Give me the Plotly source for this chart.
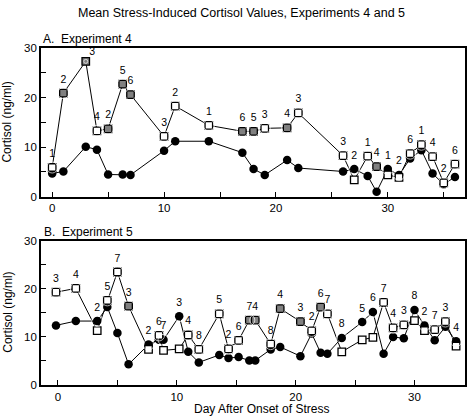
import plotly.graph_objects as go

# ---------------- data ----------------
title_text = "Mean Stress-Induced Cortisol Values, Experiments 4 and 5"

# Experiment 4
days4 = [0, 1, 3, 4, 5, 6.3, 7, 10, 11, 14, 17, 18, 19, 21, 22, 26, 27, 28.2, 29, 30, 31, 32, 33, 34, 35, 36]
indiv4 = [5.9, 20.9, 27.3, 13.3, 13.7, 22.7, 20.6, 12.2, 18.3, 14.4, 13.2, 13.2, 13.8, 13.9, 16.9,
          8.3, 3.4, 8.2, 6.1, 4.4, 3.9, 8.7, 10.5, 8.1, 2.8, 6.6]
mean4 = [4.7, 5.1, 10.1, 9.5, 4.5, 4.5, 4.4, 9.3, 11.2, 11.2, 8.9, 5.6, 4.4, 7.4, 5.8,
         5.1, 5.6, 4.2, 1.0, 5.6, 4.4, 7.7, 9.4, 4.7, 2.5, 4.0]
labels4 = ["1", "2", "3", "4", "2", "5", "6", "3", "2", "1", "6", "5", "3", "4", "3",
           "3", "2", "1", "4", "1", "2", "6", "1", "4", "2", "6"]
gray4 = [False, True, True, False, True, True, True, False, False, False, True, True, False, True, False,
         False, False, False, True, False, False, False, False, False, False, False]

# Experiment 5
days5 = [-0.17, 1.5, 3.3, 4.15, 5.0, 5.94, 7.62, 8.5, 8.88, 10.2, 10.96, 11.85, 13.57, 14.35, 15.2,
         16.1, 16.6, 17.9, 18.7, 20.4, 21.35, 22.1, 22.67, 23.88, 25.6, 26.5, 27.4, 28.2, 29.1,
         30.0, 30.84, 31.7, 32.6, 33.5]
indiv5 = [19.3, 20.1, 11.3, 17.6, 23.5, 16.4, 7.4, 10.3, 7.2, 7.5, 10.4, 7.4, 14.8, 7.5, 9.3,
          13.5, 13.5, 8.5, 15.9, 13.2, 11.25, 16.2, 14.8, 6.9, 9.4, 9.9, 17.2, 11.9, 12.5,
          13.4, 11.3, 11.5, 13.2, 8.1]
mean5 = [12.4, 13.3, 13.3, 16.2, 10.8, 4.3, 8.4, 9.4, 9.4, 14.3, 6.9, 4.7, 6.25, 5.6, 5.8,
         5.1, 5.1, 7.4, 7.9, 6.0, 10.7, 6.7, 6.5, 9.8, 13.1, 15.2, 6.5, 10.0, 9.7,
         15.6, 12.4, 9.3, 12.1, 9.1]
labels5 = ["3", "4", "2", "5", "7", "3", "2", "6", "7", "3", "4", "8", "5", "2", "6",
           "7", "4", "8", "4", "3", "2", "6", "7", "8", "5", "6", "7", "4", "3",
           "8", "2", "7", "3", "4"]
gray5 = [False, False, False, False, False, True, False, False, False, False, False, False, False, False, False,
         True, True, False, True, True, False, True, False, False, False, False, False, False, False,
         False, False, False, False, False]

ytick_vals = [0, 5, 10, 15, 20, 25, 30]
ytick_text = ["0", "", "10", "", "20", "", "30"]
xtick_vals = [0, 5, 10, 15, 20, 25, 30, 35]
xtick_text = ["0", "", "10", "", "20", "", "30", ""]

panel_titles = ["A.  Experiment 4", "B.  Experiment 5"]
y_title = "Cortisol (ng/ml)"
x_title = "Day After Onset of Stress"

# ---------------- figure ----------------
FONT = "Liberation Sans, Arial, Helvetica, sans-serif"
GRAY = "#808080"
fig = go.Figure()


def add_panel(days, indiv, mean, labels, gray, xa, ya, peak_right=None):
    fig.add_trace(go.Scatter(
        x=days, y=mean, mode="lines+markers", xaxis=xa, yaxis=ya,
        line=dict(color="black", width=1),
        marker=dict(symbol="circle", size=8.5, color="black"),
        showlegend=False, hoverinfo="skip"))
    fig.add_trace(go.Scatter(
        x=days, y=indiv, mode="lines+markers", xaxis=xa, yaxis=ya,
        line=dict(color="black", width=1),
        marker=dict(symbol="square", size=7.5,
                    color=[GRAY if g else "white" for g in gray],
                    line=dict(color="black", width=1.3)),
        showlegend=False, hoverinfo="skip"))
    top = [max(a, b) for a, b in zip(indiv, mean)]
    pos = ["top center"] * len(days)
    sizes = [11] * len(days)
    if peak_right is not None:
        pos[peak_right] = "top right"
        sizes[peak_right] = 4
    fig.add_trace(go.Scatter(
        x=days, y=top, mode="markers+text", xaxis=xa, yaxis=ya,
        text=labels, textposition=pos,
        textfont=dict(size=10.5, color="black", family=FONT),
        marker=dict(size=sizes, color="rgba(0,0,0,0)"),
        showlegend=False, hoverinfo="skip", cliponaxis=False))


peak_idx = indiv4.index(max(indiv4))
add_panel(days4, indiv4, mean4, labels4, gray4, "x", "y", peak_right=peak_idx)
add_panel(days5, indiv5, mean5, labels5, gray5, "x2", "y2")

axis_common = dict(
    showline=True, linecolor="black", linewidth=1.6, mirror=True,
    ticks="inside", ticklen=5, tickwidth=1, tickcolor="black",
    showgrid=False, zeroline=False,
    tickfont=dict(size=11.5, color="black", family=FONT),
)

fig.update_layout(
    width=470, height=418,
    margin=dict(l=41, r=3, t=48, b=32.5),
    paper_bgcolor="white", plot_bgcolor="white",
    font=dict(family=FONT, color="black"),
    xaxis=dict(domain=[0, 1], range=[-1, 36.9], anchor="y",
               tickmode="array", tickvals=xtick_vals, ticktext=xtick_text, **axis_common),
    yaxis=dict(domain=[0.5585, 1], range=[0, 30], anchor="x",
               tickmode="array", tickvals=ytick_vals, ticktext=ytick_text, **axis_common),
    xaxis2=dict(domain=[0, 1], range=[-1.43, 34.25], anchor="y2",
                tickmode="array", tickvals=xtick_vals, ticktext=xtick_text, **axis_common),
    yaxis2=dict(domain=[0, 0.428], range=[0, 30], anchor="x2",
                tickmode="array", tickvals=ytick_vals, ticktext=ytick_text, **axis_common),
)


def px_x(px):
    return (px - 41) / 426.0


def px_y(py):
    return (385.5 - py) / 337.5


annots = [
    dict(text=title_text, x=px_x(242), y=px_y(13), xanchor="center", yanchor="middle",
         font=dict(size=12.5)),
    dict(text=panel_titles[0], x=px_x(41), y=px_y(39), xanchor="left", yanchor="middle",
         font=dict(size=12)),
    dict(text=panel_titles[1], x=px_x(42), y=px_y(232), xanchor="left", yanchor="middle",
         font=dict(size=12)),
    dict(text=y_title, x=px_x(7), y=px_y(122.5), xanchor="center", yanchor="middle",
         textangle=-90, font=dict(size=12)),
    dict(text=y_title, x=px_x(7), y=px_y(313), xanchor="center", yanchor="middle",
         textangle=-90, font=dict(size=12)),
    dict(text=x_title, x=px_x(263), y=px_y(410), xanchor="center", yanchor="middle",
         font=dict(size=12)),
]
for a in annots:
    a.update(xref="paper", yref="paper", showarrow=False)
    a["font"] = dict(family=FONT, color="black", **a["font"])
fig.update_layout(annotations=annots)

fig.write_html(
    "out.html",
    config={"displayModeBar": False},
    post_script="document.body.style.margin='0';document.body.style.overflow='hidden';",
)
